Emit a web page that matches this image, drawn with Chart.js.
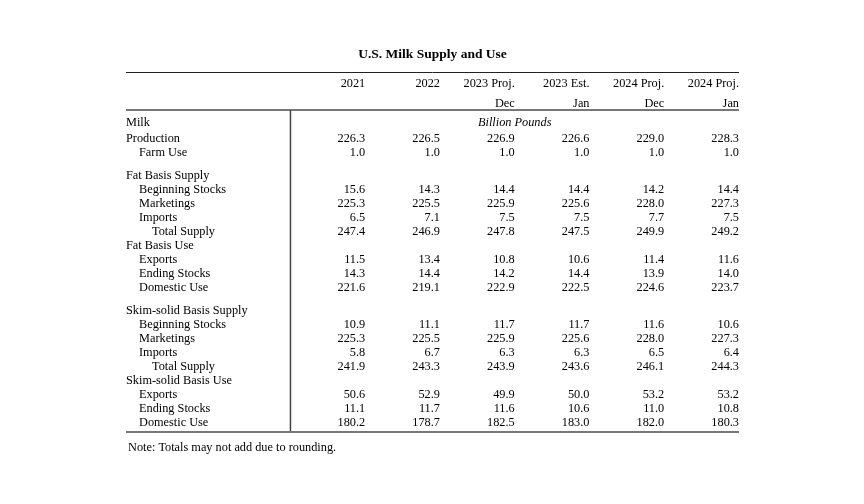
<!DOCTYPE html>
<html>
<head>
<meta charset="utf-8">
<title>U.S. Milk Supply and Use</title>
<script src="https://cdn.jsdelivr.net/npm/chart.js@4.4.1/dist/chart.umd.min.js"></script>
<style>
  body { margin: 0; background: #fff; }
  canvas { display: block; }
</style>
</head>
<body>
<canvas id="tabela" width="864" height="504"></canvas>
<script>
// Dados da tabela
const titulo = 'U.S. Milk Supply and Use';
const cabecalho1 = ['2021', '2022', '2023 Proj.', '2023 Est.', '2024 Proj.', '2024 Proj.'];
const cabecalho2 = ['', '', 'Dec', 'Jan', 'Dec', 'Jan'];
const secao = 'Milk';
const unidade = 'Billion Pounds';
const nota = 'Note: Totals may not add due to rounding.';

const linhas = ['Production', 'Farm Use',
  'Fat Basis Supply', 'Beginning Stocks', 'Marketings', 'Imports', 'Total Supply',
  'Fat Basis Use', 'Exports', 'Ending Stocks', 'Domestic Use',
  'Skim-solid Basis Supply', 'Beginning Stocks', 'Marketings', 'Imports', 'Total Supply',
  'Skim-solid Basis Use', 'Exports', 'Ending Stocks', 'Domestic Use'];
const nivel = [0, 1, 0, 1, 1, 1, 2, 0, 1, 1, 1, 0, 1, 1, 1, 2, 0, 1, 1, 1];

const v2021    = [226.3, 1.0, null, 15.6, 225.3, 6.5, 247.4, null, 11.5, 14.3, 221.6, null, 10.9, 225.3, 5.8, 241.9, null, 50.6, 11.1, 180.2];
const v2022    = [226.5, 1.0, null, 14.3, 225.5, 7.1, 246.9, null, 13.4, 14.4, 219.1, null, 11.1, 225.5, 6.7, 243.3, null, 52.9, 11.7, 178.7];
const v2023Dec = [226.9, 1.0, null, 14.4, 225.9, 7.5, 247.8, null, 10.8, 14.2, 222.9, null, 11.7, 225.9, 6.3, 243.9, null, 49.9, 11.6, 182.5];
const v2023Jan = [226.6, 1.0, null, 14.4, 225.6, 7.5, 247.5, null, 10.6, 14.4, 222.5, null, 11.7, 225.6, 6.3, 243.6, null, 50.0, 10.6, 183.0];
const v2024Dec = [229.0, 1.0, null, 14.2, 228.0, 7.7, 249.9, null, 11.4, 13.9, 224.6, null, 11.6, 228.0, 6.5, 246.1, null, 53.2, 11.0, 182.0];
const v2024Jan = [228.3, 1.0, null, 14.4, 227.3, 7.5, 249.2, null, 11.6, 14.0, 223.7, null, 10.6, 227.3, 6.4, 244.3, null, 53.2, 10.8, 180.3];
const colunas = [v2021, v2022, v2023Dec, v2023Jan, v2024Dec, v2024Jan];

// Posições das linhas (em unidades de linha no eixo y)
const yCab1 = 0.76, yCab2 = 2.2, yRegra = 2.71, ySecao = 3.57;
const novoBloco = ['Fat Basis Supply', 'Skim-solid Basis Supply'];
let posY = [];
let y = 4.71;
linhas.forEach(function(l, i) {
  if (i > 0) y += 1;
  if (novoBloco.indexOf(l) !== -1) y += 0.62;
  posY.push(y);
});
const yFim = posY[posY.length - 1] + 0.76;
const yNota = yFim + 1.08;

const fonte = '"Liberation Serif", "Times New Roman", serif';
const tamanho = 12.3;
const ajuste = 1; // desce o texto 1px para alinhar com a referência

let datasets = [{
  label: 'rotulos',
  data: linhas.map(function(l, i) { return { x: -2.2, y: posY[i], t: l, n: nivel[i] }; }),
  pointRadius: 0
}];
colunas.forEach(function(col, j) {
  let pts = [];
  col.forEach(function(v, i) {
    if (v !== null) pts.push({ x: j + 1, y: posY[i], t: v.toFixed(1) });
  });
  datasets.push({ label: cabecalho1[j], data: pts, pointRadius: 0 });
});

// Plugin que desenha as regras e escreve o texto das células
const celulas = {
  id: 'celulas',
  beforeDatasetsDraw: function(chart) {
    const ctx = chart.ctx, xs = chart.scales.x, ys = chart.scales.y;
    const esq = xs.getPixelForValue(-2.2), dir = xs.getPixelForValue(6);
    ctx.save();
    ctx.strokeStyle = '#222';
    ctx.lineWidth = 1;
    ctx.beginPath();
    ctx.moveTo(esq, Math.round(ys.getPixelForValue(0)) + 0.5);
    ctx.lineTo(dir, Math.round(ys.getPixelForValue(0)) + 0.5);
    ctx.stroke();
    ctx.strokeStyle = '#777';
    ctx.lineWidth = 2;
    [yRegra, yFim].forEach(function(v) {
      ctx.beginPath();
      ctx.moveTo(esq, ys.getPixelForValue(v));
      ctx.lineTo(dir, ys.getPixelForValue(v));
      ctx.stroke();
    });
    ctx.strokeStyle = '#444';
    ctx.lineWidth = 1.5;
    ctx.beginPath();
    ctx.moveTo(xs.getPixelForValue(0), ys.getPixelForValue(yRegra));
    ctx.lineTo(xs.getPixelForValue(0), ys.getPixelForValue(yFim) - 1);
    ctx.stroke();
    ctx.restore();
  },
  afterDatasetsDraw: function(chart) {
    const ctx = chart.ctx, xs = chart.scales.x, ys = chart.scales.y;
    ctx.save();
    ctx.fillStyle = '#000';
    ctx.textBaseline = 'middle';
    ctx.font = tamanho + 'px ' + fonte;
    chart.data.datasets.forEach(function(ds, d) {
      const meta = chart.getDatasetMeta(d);
      meta.data.forEach(function(p, k) {
        const item = ds.data[k];
        if (d === 0) {
          ctx.textAlign = 'left';
          ctx.fillText(item.t, p.x + item.n * 13, p.y + ajuste);
        } else {
          ctx.textAlign = 'right';
          ctx.fillText(item.t, p.x, p.y + ajuste);
        }
      });
    });
    ctx.textAlign = 'right';
    cabecalho1.forEach(function(c, j) {
      ctx.fillText(c, xs.getPixelForValue(j + 1), ys.getPixelForValue(yCab1) + ajuste);
      ctx.fillText(cabecalho2[j], xs.getPixelForValue(j + 1), ys.getPixelForValue(yCab2) + ajuste);
    });
    ctx.textAlign = 'left';
    ctx.fillText(secao, xs.getPixelForValue(-2.2), ys.getPixelForValue(ySecao) + ajuste);
    ctx.fillText(nota, xs.getPixelForValue(-2.2) + 2, ys.getPixelForValue(yNota) + ajuste);
    ctx.textAlign = 'center';
    ctx.font = 'italic ' + tamanho + 'px ' + fonte;
    ctx.fillText(unidade, xs.getPixelForValue(3), ys.getPixelForValue(ySecao) + ajuste);
    ctx.restore();
  }
};

var ctxTabela = document.getElementById('tabela').getContext('2d');
var tabela = new Chart(ctxTabela, {
  type: 'scatter',
  data: { datasets: datasets },
  plugins: [celulas],
  options: {
    responsive: false,
    animation: false,
    layout: { padding: { top: 46, left: 126, right: 125, bottom: 40 } },
    scales: {
      x: { type: 'linear', min: -2.2, max: 6, display: false },
      y: { type: 'linear', min: 0, max: 28, reverse: true, display: false }
    },
    plugins: {
      legend: { display: false },
      tooltip: { enabled: false },
      title: {
        display: true,
        text: titulo,
        color: '#000',
        font: { family: fonte, size: 13.5, weight: 'bold', lineHeight: 1.2 },
        padding: { top: 0, bottom: 10 }
      }
    }
  }
});
</script>
</body>
</html>
